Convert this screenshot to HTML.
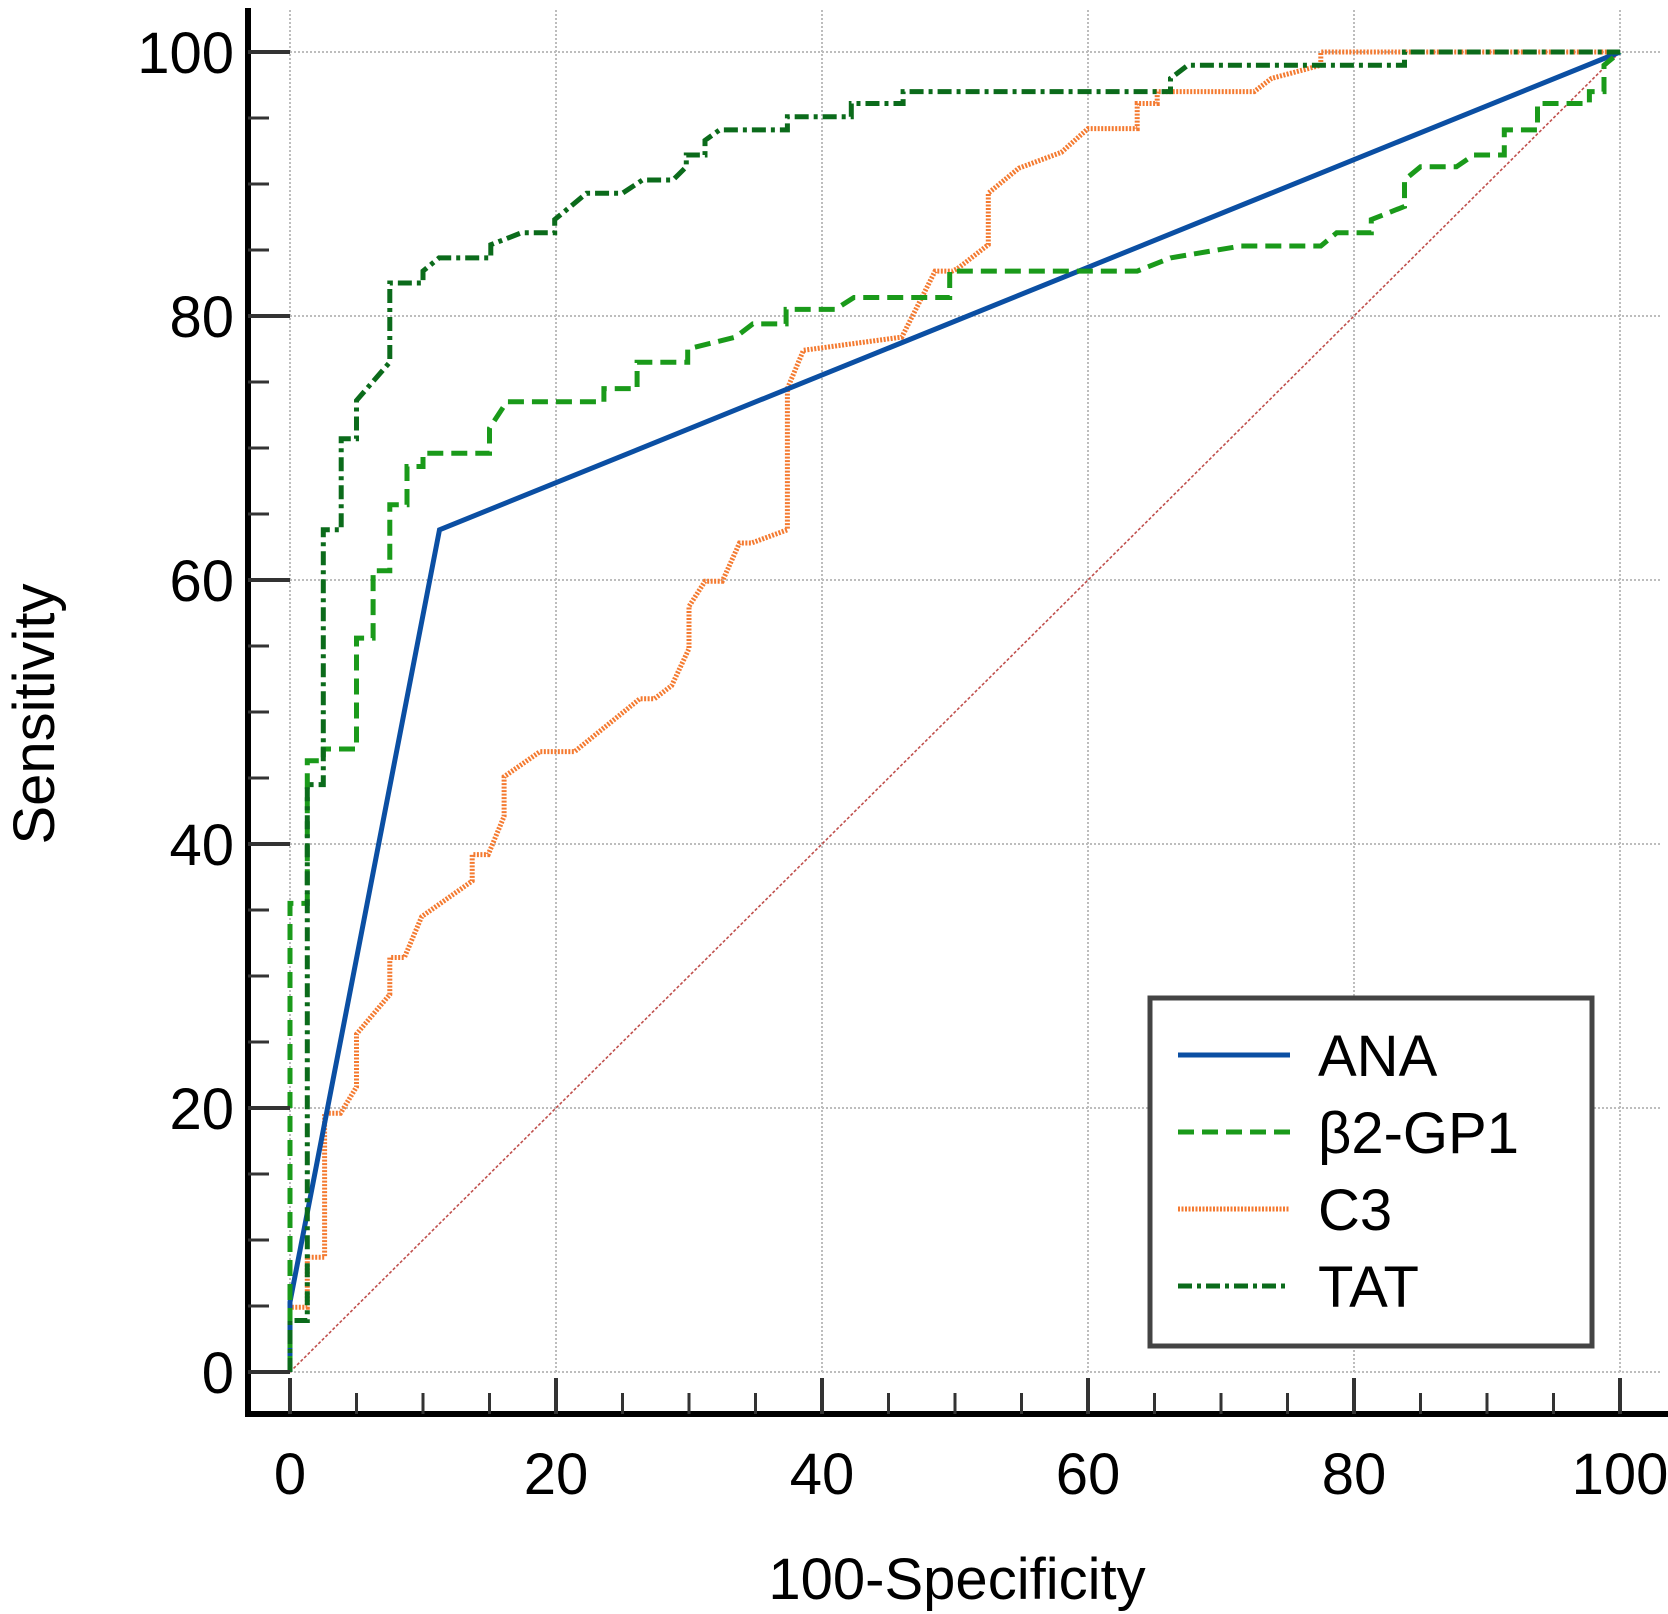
<!DOCTYPE html>
<html><head><meta charset="utf-8"><style>
html,body{margin:0;padding:0;background:#fff;}
svg{display:block;font-family:"Liberation Sans",Arial,sans-serif;}
</style></head><body>
<svg id="chart" width="1668" height="1614" viewBox="0 0 1668 1614" xmlns="http://www.w3.org/2000/svg">
<g id="grid"></g>
<g id="series"></g>
<g id="axes"></g>
<text x="957" y="1599" font-size="58" text-anchor="middle" fill="#000">100-Specificity</text>
<text x="0" y="0" font-size="58" text-anchor="middle" fill="#000" transform="translate(54,714) rotate(-90)">Sensitivity</text>
<g id="legend">
<rect x="1150" y="998" width="442" height="348" fill="#fff" stroke="#444" stroke-width="5"/>
</g>
</svg>
<script>
const ticks = [0,20,40,60,80,100];
const minorTicks = [5,10,15,25,30,35,45,50,55,65,70,75,85,90,95];
const seriesNames = ["ANA","β2-GP1","C3","TAT"];
const anaX = [0,0,11.24,100];
const anaY = [0,5.3,63.8,100];
const b2X = [0,0,1.3,1.3,2.5,2.5,5.0,5.0,6.25,6.25,7.5,7.5,8.8,8.8,10,10,15,15,16.3,23.6,23.6,26.1,26.1,29.9,29.9,33.5,34.8,37.3,37.3,41,42.4,49.6,49.6,63.7,66.2,71.5,77.5,78.7,81.3,81.3,83.8,83.8,85,87.7,89,91.3,91.3,93.8,93.8,97.7,97.7,98.8,98.8,100];
const b2Y = [0,35.5,35.5,46.3,46.3,47.2,47.2,55.6,55.6,60.7,60.7,65.7,65.7,68.6,68.6,69.6,69.6,71.5,73.5,73.5,74.5,74.5,76.5,76.5,77.5,78.4,79.4,79.4,80.5,80.5,81.4,81.4,83.4,83.4,84.4,85.3,85.3,86.3,86.3,87.3,88.3,90.3,91.3,91.3,92.2,92.2,94.1,94.1,96.1,96.1,97,97,99,100];
const c3X = [0,0,1.3,1.3,2.6,2.6,3.8,5.0,5.0,7.5,7.5,8.6,9.9,13.7,13.7,14.9,16.1,16.1,18.8,21.4,26.3,27.4,28.7,30.0,30.0,31.2,32.5,33.8,34.7,37.4,37.4,38.6,46,48.5,49.8,50.2,52.5,52.5,54.8,58,60,63.7,63.7,65.2,65.2,72.5,73.8,77.5,77.5,100];
const c3Y = [0,4.9,4.9,8.7,8.7,19.6,19.6,21.6,25.6,28.6,31.4,31.4,34.5,37.2,39.2,39.2,42.1,45.1,47,47,51,51,52,54.8,58,59.9,59.9,62.8,62.8,63.8,74.5,77.4,78.4,83.4,83.4,83.6,85.4,89.3,91.2,92.4,94.2,94.2,96.1,96.1,97,97,98,99,100,100];
const tatX = [0,0,1.3,1.3,2.5,2.5,3.85,3.85,5,5,7.5,7.5,10,10,11.2,15.1,15.1,17.4,19.9,19.9,22.3,25,26.5,28.8,29.8,29.8,31.2,31.2,32.3,37.4,37.4,42.2,42.2,46.1,46.1,66.2,66.2,67.5,67.5,83.8,83.8,100];
const tatY = [0,3.9,3.9,44.5,44.5,63.8,63.8,70.7,70.7,73.6,76.5,82.5,82.5,83.4,84.4,84.4,85.4,86.3,86.3,87.3,89.3,89.3,90.3,90.3,91.3,92.2,92.2,93.3,94.1,94.1,95.1,95.1,96.1,96.1,97,97,98,99,99,99,100,100];

const X0 = 290, XS = 13.3, Y0 = 1372, YS = 13.2;
const sx = v => X0 + v*XS;
const sy = v => Y0 - v*YS;
const NS = "http://www.w3.org/2000/svg";
function mk(tag, attrs, parent){
  const el = document.createElementNS(NS, tag);
  for (const k in attrs) el.setAttribute(k, attrs[k]);
  parent.appendChild(el);
  return el;
}
const grid = document.getElementById('grid');
const axes = document.getElementById('axes');
const series = document.getElementById('series');
const legend = document.getElementById('legend');

ticks.forEach(t => {
  const v = mk('line', {x1:sx(t), x2:sx(t), y1:10, y2:Y0, stroke:'#bdbdbd', 'stroke-width':2, 'stroke-dasharray':'2 2'}, grid);
  
  
  const h = mk('line', {x1:X0, x2:1662, y1:sy(t), y2:sy(t), stroke:'#bdbdbd', 'stroke-width':2, 'stroke-dasharray':'2 2'}, grid);
  
  
});

// diagonal reference
const diag = mk('line', {x1:sx(0), y1:sy(0), x2:sx(100), y2:sy(100), stroke:'#c0504d', 'stroke-width':1.6, 'stroke-dasharray':'3 2'}, series);



function poly(xs, ys){ return xs.map((x,i)=> sx(x).toFixed(1)+','+sy(ys[i]).toFixed(1)).join(' '); }
const styles = [
  {xs:anaX, ys:anaY, color:'#0b4fa3', dash:'', w:5},
  {xs:b2X, ys:b2Y, color:'#1a9a1a', dash:'16 8', w:5},
  {xs:c3X, ys:c3Y, color:'#f47a30', dash:'2 1.5', w:5},
  {xs:tatX, ys:tatY, color:'#0b6b1b', dash:'14 5 4 5', w:5}
];
const order = [2,0,1,3];
order.forEach(i => {
  const s = styles[i];
  const p = mk('polyline', {points:poly(s.xs, s.ys), fill:'none', stroke:s.color, 'stroke-width':s.w, 'stroke-dasharray':s.dash, 'stroke-linejoin':'miter'}, series);
  
  
});

// axes
const ya = mk('line', {x1:248, x2:248, y1:8, y2:1417, stroke:'#000', 'stroke-width':6}, axes);


const xa = mk('line', {x1:245, x2:1668, y1:1414, y2:1414, stroke:'#000', 'stroke-width':6}, axes);



ticks.forEach(t => {
  const a = mk('line', {x1:sx(t), x2:sx(t), y1:1414, y2:1378, stroke:'#333', 'stroke-width':4}, axes);
  
  
  const b = mk('line', {x1:248, x2:290, y1:sy(t), y2:sy(t), stroke:'#333', 'stroke-width':4}, axes);
  
  
  const lx = mk('text', {x:sx(t), y:1494, 'font-size':58, 'text-anchor':'middle', fill:'#000'}, axes);
  lx.textContent = t;
  
  
  const ly = mk('text', {x:234, y:sy(t)+21, 'font-size':58, 'text-anchor':'end', fill:'#000'}, axes);
  ly.textContent = t;
  
  
});
minorTicks.forEach(t => {
  const a = mk('line', {x1:sx(t), x2:sx(t), y1:1414, y2:1393, stroke:'#333', 'stroke-width':3}, axes);
  
  
  const b = mk('line', {x1:248, x2:269, y1:sy(t), y2:sy(t), stroke:'#333', 'stroke-width':3}, axes);
  
  
});

// legend
const rowsY = [1055,1132,1209,1286];
seriesNames.forEach((n,i) => {
  const s = styles[i];
  const g = mk('g', {}, legend);
  
  
  const l = mk('line', {x1:1178, x2:1290, y1:rowsY[i], y2:rowsY[i], stroke:s.color, 'stroke-width':s.w, 'stroke-dasharray':s.dash}, g);
  
  
  const t = mk('text', {x:1318, y:rowsY[i]+21, 'font-size':58, fill:'#000'}, g);
  t.textContent = n;
  
  
});
</script>
</body></html>
